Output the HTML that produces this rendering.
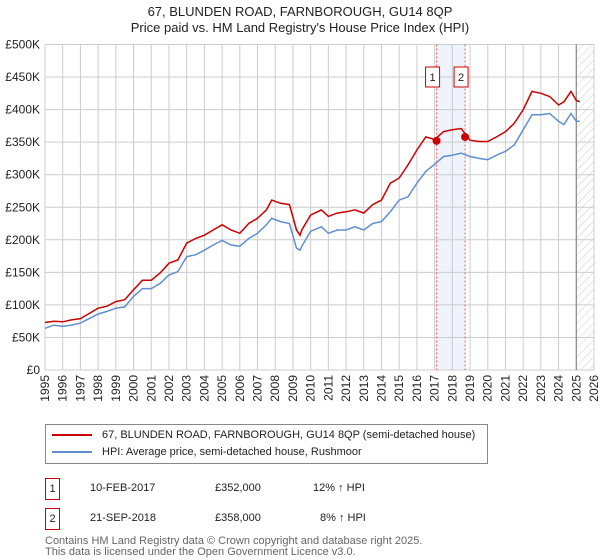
<!DOCTYPE html>
<html><head><meta charset="utf-8"><style>
body{margin:0;background:#fff;font-family:"Liberation Sans","DejaVu Sans",sans-serif;}
#wrap{position:relative;width:600px;height:560px;overflow:hidden}
#wrap div{white-space:nowrap}
</style></head><body><div id="wrap">
<svg id="chart" width="600" height="560" style="position:absolute;left:0;top:0">
<defs><pattern id="hatch" width="6" height="6" patternUnits="userSpaceOnUse" patternTransform="rotate(45)"><line x1="0" y1="0" x2="0" y2="6" stroke="#ccc" stroke-width="1"/></pattern></defs>
<text x="300" y="16" text-anchor="middle" font-size="13" fill="#222">67, BLUNDEN ROAD, FARNBOROUGH, GU14 8QP</text>
<text x="300" y="32" text-anchor="middle" font-size="13" fill="#222">Price paid vs. HM Land Registry's House Price Index (HPI)</text>
<g id="grid"></g><g id="marks"></g><g id="axes"></g>
</svg>
<div style="position:absolute;left:45px;top:424px;width:441px;height:38px;border:1px solid #888;font-size:11px;color:#222">
 <div style="position:absolute;left:6px;top:4px;white-space:nowrap"><span style="display:inline-block;width:40px;height:2px;background:#cc0000;vertical-align:middle;margin-right:10px"></span>67, BLUNDEN ROAD, FARNBOROUGH, GU14 8QP (semi-detached house)</div>
 <div style="position:absolute;left:6px;top:21px;white-space:nowrap"><span style="display:inline-block;width:40px;height:2px;background:#5f8fd0;vertical-align:middle;margin-right:10px"></span>HPI: Average price, semi-detached house, Rushmoor</div>
</div>
<div style="position:absolute;left:0;top:0;font-size:11px;color:#222">
 <div style="position:absolute;left:45px;top:478px;width:13px;height:20px;border:1px solid #cc0000;text-align:center;line-height:20px">1</div>
 <div style="position:absolute;left:90px;top:482px">10-FEB-2017</div>
 <div style="position:absolute;left:215px;top:482px">£352,000</div>
 <div style="position:absolute;left:313px;top:482px">12% ↑ HPI</div>
 <div style="position:absolute;left:45px;top:508px;width:13px;height:20px;border:1px solid #cc0000;text-align:center;line-height:20px">2</div>
 <div style="position:absolute;left:90px;top:512px">21-SEP-2018</div>
 <div style="position:absolute;left:215px;top:512px">£358,000</div>
 <div style="position:absolute;left:320px;top:512px">8% ↑ HPI</div>
</div>
<div style="position:absolute;left:45px;top:536px;font-size:11px;line-height:11px;color:#666">Contains HM Land Registry data © Crown copyright and database right 2025.<br>This data is licensed under the Open Government Licence v3.0.</div>
</div>
<script>
const years=[1995,1995.5,1996,1996.5,1997,1997.5,1998,1998.5,1999,1999.5,2000,2000.5,2001,2001.5,2002,2002.5,2003,2003.5,2004,2004.5,2005,2005.5,2006,2006.5,2007,2007.5,2007.8,2008.3,2008.8,2009.2,2009.4,2009.5,2010,2010.6,2011,2011.5,2012,2012.5,2013,2013.5,2014,2014.5,2015,2015.5,2016,2016.5,2017,2017.5,2018,2018.5,2019,2019.5,2020,2020.5,2021,2021.5,2022,2022.5,2023,2023.5,2024,2024.3,2024.7,2025,2025.2];
const hpiValues=[64,69,67,69,72,79,86,90,95,97,113,125,125,133,146,151,174,177,184,192,199,192,190,202,210,223,233,228,225,187,184,190,213,220,210,215,215,220,215,225,228,243,261,266,287,305,316,328,330,333,328,325,323,330,336,346,369,392,392,394,382,377,394,382,382];
const priceValues=[73,75,74,77,79,87,95,98,105,108,123,138,138,149,164,169,195,202,207,215,223,215,210,225,233,246,261,256,254,215,207,215,238,246,236,241,243,246,241,254,261,287,295,315,338,358,354,366,369,371,353,351,351,358,366,379,400,428,425,420,407,412,428,414,412];
const saleYears=[2017.11,2018.72];
const saleValues=[352,358];
const saleLabels=["1","2"];
const yTicks=[0,50,100,150,200,250,300,350,400,450,500];
const yTickLabels=["£0","£50K","£100K","£150K","£200K","£250K","£300K","£350K","£400K","£450K","£500K"];
const xTicks=[1995,1996,1997,1998,1999,2000,2001,2002,2003,2004,2005,2006,2007,2008,2009,2010,2011,2012,2013,2014,2015,2016,2017,2018,2019,2020,2021,2022,2023,2024,2025,2026];
const forecastStart=2025.0;

const X0=45,X1=594,Y0=370,Y1=44.5;
const xs=y=>X0+(y-1995)/(2026-1995)*(X1-X0);
const ys=v=>Y0-v/500*(Y0-Y1);
const NS="http://www.w3.org/2000/svg";
function mk(parent,tag,attrs){const e=document.createElementNS(NS,tag);for(const k in attrs)e.setAttribute(k,attrs[k]);parent.appendChild(e);return e;}
const grid=document.getElementById('grid'),marks=document.getElementById('marks'),axes=document.getElementById('axes');
let band=mk(grid,'rect',{x:xs(saleYears[0]),y:Y1,width:xs(saleYears[1])-xs(saleYears[0]),height:Y0-Y1,fill:'#eef3fc'});


yTicks.forEach((t,i)=>{
 const l=mk(grid,'line',{x1:X0,x2:X1,y1:ys(t),y2:ys(t),stroke:'#ccc','stroke-width':1});
 
 
 const tx=mk(axes,'text',{x:40,y:ys(t)+4,'text-anchor':'end','font-size':12,fill:'#222'});
 tx.textContent=yTickLabels[i];
 
 
});
xTicks.forEach(t=>{
 const l=mk(grid,'line',{x1:xs(t),x2:xs(t),y1:Y1,y2:Y0,stroke:'#ccc','stroke-width':1});
 
 
 const tx=mk(axes,'text',{x:0,y:0,'text-anchor':'end','font-size':12,fill:'#222',transform:`translate(${xs(t)+4},375) rotate(-90)`});
 tx.textContent=t;
 
 
});
let hz=mk(grid,'rect',{x:xs(forecastStart),y:Y1,width:X1-xs(forecastStart),height:Y0-Y1,fill:'url(#hatch)'});


let fl=mk(grid,'line',{x1:xs(forecastStart),x2:xs(forecastStart),y1:Y1,y2:Y0,stroke:'#888','stroke-width':1.2});


saleYears.forEach((s,i)=>{
 const l=mk(grid,'line',{x1:xs(s),x2:xs(s),y1:Y1,y2:Y0,stroke:'#f06060','stroke-width':1,'stroke-dasharray':'2,2'});
 
 
});
function path(vals){return vals.map((v,i)=>(i?'L':'M')+xs(years[i]).toFixed(1)+','+ys(v).toFixed(1)).join('');}
let hp=mk(marks,'path',{d:path(hpiValues),fill:'none',stroke:'#5f8fd0','stroke-width':1.5});


let pp=mk(marks,'path',{d:path(priceValues),fill:'none',stroke:'#cc0000','stroke-width':1.5});


saleYears.forEach((s,i)=>{
 const c=mk(marks,'circle',{cx:xs(s),cy:ys(saleValues[i]),r:4,fill:'#cc0000'});
 
 
 const r=mk(marks,'rect',{x:xs(s)-11,y:67,width:14,height:20,fill:'#fff',stroke:'#cc0000','stroke-width':1});
 
 
 const t=mk(marks,'text',{x:xs(s)-4,y:81,'text-anchor':'middle','font-size':11,fill:'#222'});
 t.textContent=saleLabels[i];
 
 
});
</script>
</body></html>
